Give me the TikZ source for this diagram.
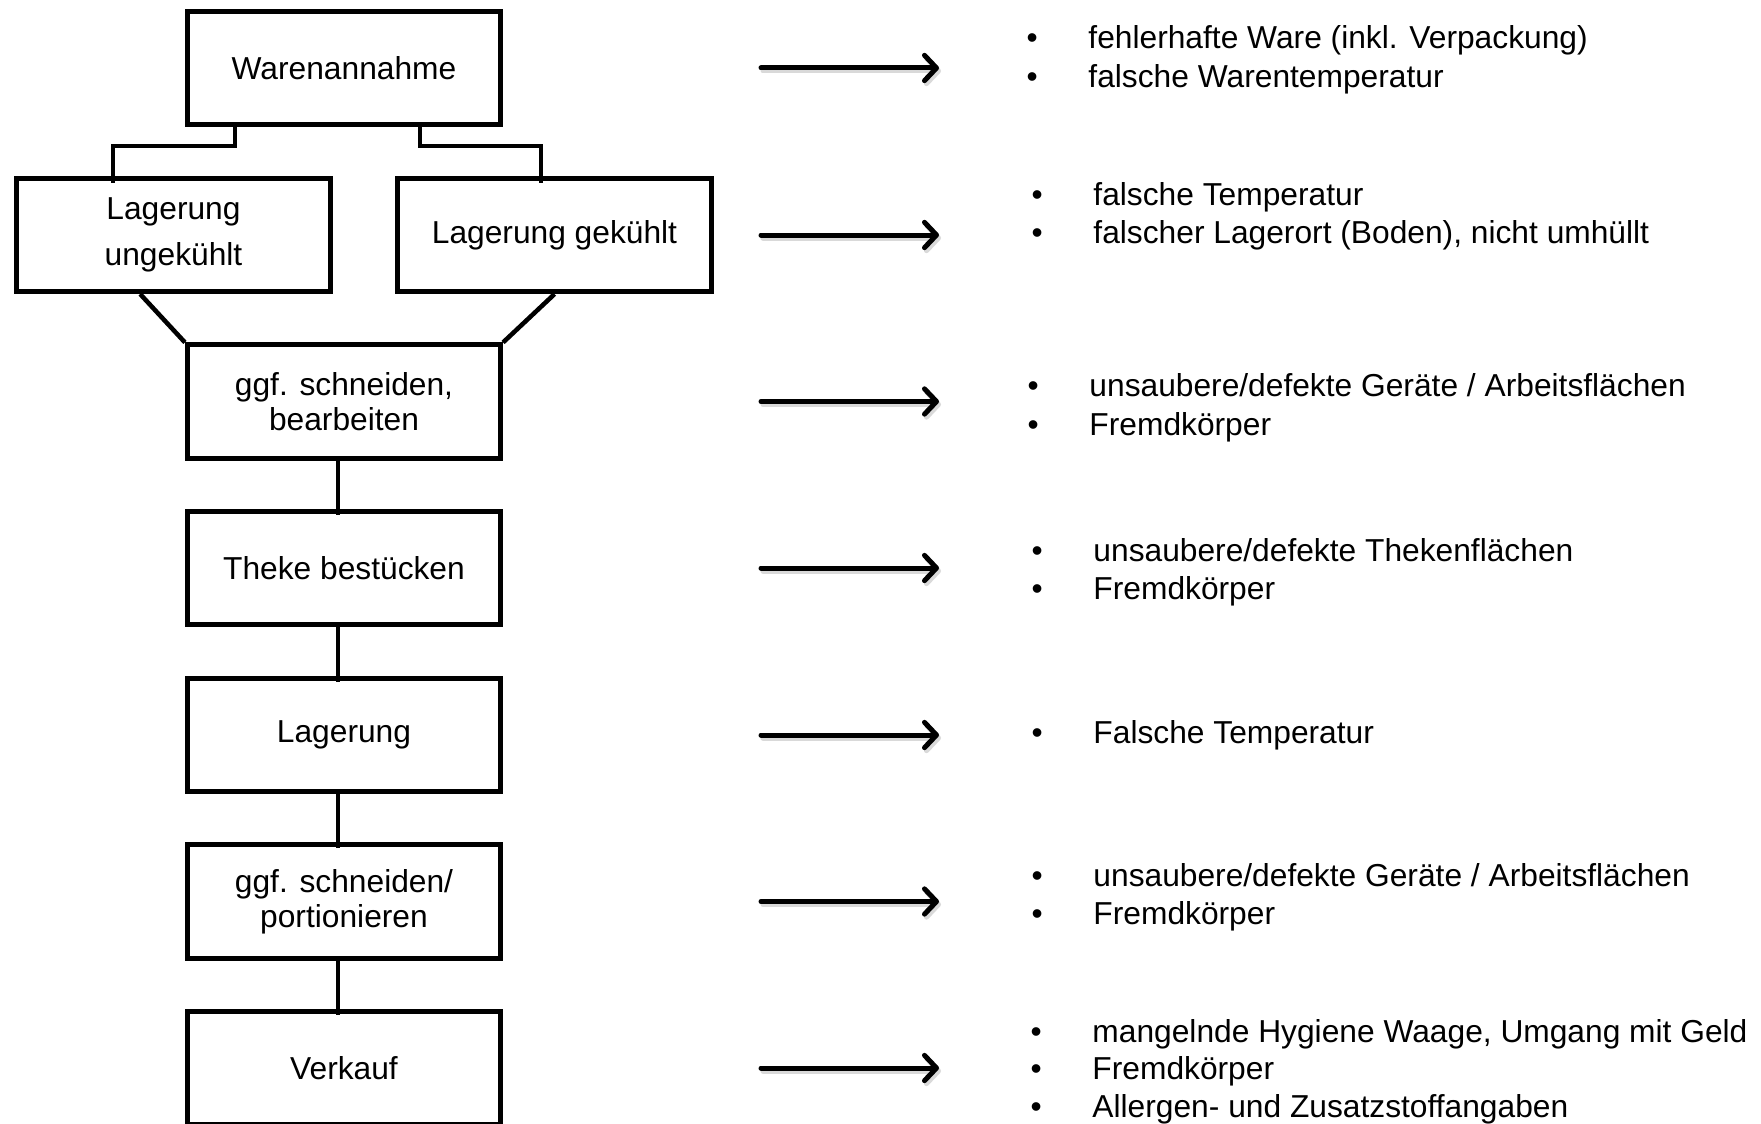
\documentclass[tikz,border=0pt]{standalone}
\usepackage{fontspec}
\setmainfont{Liberation Sans}
\usetikzlibrary{arrows.meta,calc}

\tikzset{every picture/.style={line width=0.75pt}}
\tikzset{
  stepbox/.style={draw, line width=3.6pt, minimum width=235pt, minimum height=85pt,
    inner sep=0pt, align=center, font=\fontsize{23.8}{26}\selectfont},
  link/.style={line width=3.4pt},
  hazard/.style={line width=3.75pt, line cap=round,
    -{Straight Barb[round,length=9pt,width=19pt]}},
  hazardshadow/.style={hazard, draw=black!15},
  risk/.style={anchor=base west, inner sep=0pt, font=\fontsize{23.8}{28}\selectfont}
}
\newcommand{\bul}{\makebox[46.5pt][l]{\textbullet}}

\begin{document}
\begin{tikzpicture}[x=0.75pt,y=0.75pt,yscale=-1,xscale=1]
	\useasboundingbox (0,0) rectangle (1761,1124);

	%Shape: Rectangle [process steps]
	\node[stepbox] (wa) at (344,68) {Warenannahme};
	\node[stepbox, font=\fontsize{23.8}{35}\selectfont] (lu) at (173.5,235) {Lagerung\\ungekühlt};
	\node[stepbox] (lg) at (554.5,235) {Lagerung gekühlt};
	\node[stepbox] (sb) at (344,401.5) {ggf. schneiden,\\bearbeiten};
	\node[stepbox] (tb) at (344,568) {Theke bestücken};
	\node[stepbox] (la) at (344,735) {Lagerung};
	\node[stepbox] (sp) at (344,901.5) {ggf. schneiden/\\portionieren};
	\node[stepbox] (vk) at (344,1068) {Verkauf};

	%Straight Lines [branch]
	\draw[link] ([xshift=-81.75pt]wa.south) -- ++(0,19) -| ([xshift=-45.4pt,yshift=5.25pt]lu.north);
	\draw[link] ([xshift=57pt]wa.south) -- ++(0,19) -| ([xshift=-10.1pt,yshift=5.25pt]lg.north);
	%Straight Lines [merge]
	\draw[link] ([xshift=-25pt]lu.south) -- (sb.north west);
	\draw[link] (lg.south) -- (sb.north east);
	%Straight Lines [chain]
	\foreach \a/\b in {sb/tb,tb/la,la/sp,sp/vk}
		\draw[link] ([xshift=-4.5pt]\a.south) -- ([xshift=-4.5pt,yshift=4.5pt]\b.north);

	%Straight Lines [arrows]
	\coordinate (arrowstart) at (761,0);
	\foreach \b in {wa,lg,sb,tb,la,sp,vk}{
		\draw[hazardshadow] ($(\b -| arrowstart)+(2,3)$) -- ++(178,0);
		\draw[hazard] (\b -| arrowstart) -- ++(178,0);
	}

	% Text Node
	\node[risk] (h1a) at (1026,49) {\bul fehlerhafte Ware (inkl. Verpackung)};
	\node[risk] (h1b) at (1026,88) {\bul falsche Warentemperatur};
	% Text Node
	\node[risk] (h2a) at (1031,205) {\bul falsche Temperatur};
	\node[risk] (h2b) at (1031,243) {\bul falscher Lagerort (Boden), nicht umhüllt};
	% Text Node
	\node[risk] (h3a) at (1027,396) {\bul unsaubere/defekte Geräte / Arbeitsflächen};
	\node[risk] (h3b) at (1027,435) {\bul Fremdkörper};
	% Text Node
	\node[risk] (h4a) at (1031,561) {\bul unsaubere/defekte Thekenflächen};
	\node[risk] (h4b) at (1031,599) {\bul Fremdkörper};
	% Text Node
	\node[risk] (h5a) at (1031,743) {\bul Falsche Temperatur};
	% Text Node
	\node[risk] (h6a) at (1031,886) {\bul unsaubere/defekte Geräte / Arbeitsflächen};
	\node[risk] (h6b) at (1031,924) {\bul Fremdkörper};
	% Text Node
	\node[risk] (h7a) at (1030,1042) {\bul mangelnde Hygiene Waage, Umgang mit Geld};
	\node[risk] (h7b) at (1030,1079) {\bul Fremdkörper};
	\node[risk] (h7c) at (1030,1117) {\bul Allergen- und Zusatzstoffangaben};

\end{tikzpicture}
\end{document}
